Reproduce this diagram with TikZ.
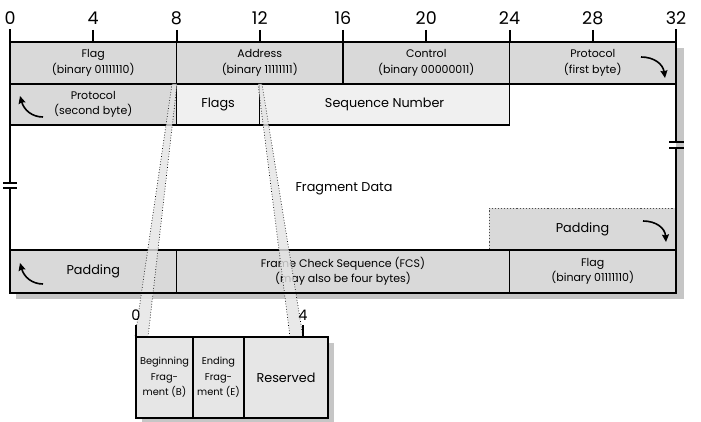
\documentclass[tikz,border=0pt]{standalone}
\usepackage{fontspec}
\setmainfont{Poppins}
\usetikzlibrary{arrows.meta}
\definecolor{hdr}{HTML}{D9D9D9}
\definecolor{lite}{HTML}{F0F0F0}
\definecolor{shad}{HTML}{C6C6C6}
\definecolor{boxg}{HTML}{E6E6E6}
\definecolor{stripg}{HTML}{E4E4E4}
\newcommand\fsmall{\fontsize{11}{15.5}\selectfont}
\newcommand\fbig{\fontsize{12.8}{14}\selectfont}
\newcommand\fnum{\fontsize{17.5}{17.5}\selectfont}
\newcommand\fnumb{\fontsize{14.5}{14.5}\selectfont}
\newcommand\ftiny{\fontsize{9.8}{15.5}\selectfont}
\begin{document}
\begin{tikzpicture}[x=1pt,y=-1pt,
  cell/.style={draw=black, line width=1.1pt, fill=hdr, inner sep=0pt, outer sep=0pt,
    anchor=north west, align=center, font=\fsmall},
  litecell/.style={cell, fill=lite, font=\fbig},
  bcell/.style={cell, fill=boxg, font=\ftiny},
  frameline/.style={line width=2pt, line cap=rect},
  tickline/.style={line width=2pt},
  curv/.style={line width=1.6pt, -{Stealth[length=7.5pt,width=7pt,inset=1pt]}},
  strip/.style={fill=stripg, fill opacity=0.8},
  stripedge/.style={dotted, line width=0.7pt},
  num/.style={font=\fnum, inner sep=0pt},
  numb/.style={font=\fnumb, inner sep=0pt}]
\useasboundingbox (0,0) rectangle (701,422);
% shadow and background
\fill[shad] (16,48) rectangle (684,299);
\fill[white] (10,42) rectangle (676,293);
% row 1
\node[cell, minimum width=166.5pt, minimum height=42pt] (flag1) at (10,42) {Flag\\(binary 01111110)};
\node[cell, minimum width=166.5pt, minimum height=42pt] (addr) at (176.5,42) {Address\\(binary 11111111)};
\node[cell, minimum width=166.5pt, minimum height=42pt] (ctrl) at (343,42) {Control\\(binary 00000011)};
\node[cell, minimum width=166.5pt, minimum height=42pt] (proto1) at (509.5,42) {Protocol\\(first byte)};
% row 2
\node[cell, minimum width=166.5pt, minimum height=41pt] (proto2) at (10,84) {Protocol\\(second byte)};
\node[litecell, minimum width=83.25pt, minimum height=41pt] (flags) at (176.5,84) {Flags};
\node[litecell, minimum width=249.75pt, minimum height=41pt] (seq) at (259.75,84) {Sequence Number};
% fragment data
\node[font=\fbig, inner sep=0pt] (frag) at (344,189) {Fragment Data};
\node[cell, draw=black!70, dotted, line width=0.7pt, font=\fbig, minimum width=187pt, minimum height=42pt] (pad1) at (489,208) {Padding};
% last row
\node[cell, font=\fbig, minimum width=166.5pt, minimum height=43pt] (pad2) at (10,250) {Padding};
\node[cell, minimum width=333pt, minimum height=43pt] (fcs) at (176.5,250) {Frame Check Sequence (FCS)\\(may also be four bytes)};
\node[cell, minimum width=166.5pt, minimum height=43pt] (flag2) at (509.5,250) {Flag\\(binary 01111110)};
% projection strips
\fill[strip] (172,84) -- (177,84) -- (148,337) -- (135,337) -- cycle;
\draw[stripedge] (172,84) -- (135,337) (177,84) -- (148,337);
\fill[strip] (258,84) -- (262,84) -- (303,337) -- (290,337) -- cycle;
\draw[stripedge] (258,84) -- (290,337) (262,84) -- (303,337);
% frame with breaks
\draw[frameline] (10,42) -- (676,42);
\draw[frameline] (10,293) -- (676,293);
\draw[frameline] (676,30) -- (676,142) (676,148) -- (676,293);
\draw[frameline] (10,30) -- (10,183) (10,188) -- (10,293);
\draw[line width=1.5pt] (3,183) -- (17,183) (3,188) -- (17,188);
\draw[line width=1.5pt] (669,142) -- (684,142) (669,148) -- (684,148);
% ruler
\foreach \b in {0,4,...,32} {
  \node[num] (n\b) at ({10+20.8125*\b},18) {\b};
  \draw[tickline] ({10+20.8125*\b},30) -- ({10+20.8125*\b},42);
}
% curved arrows
\draw[curv] (641,57) .. controls (654,57) and (663,64) .. (665,78);
\draw[curv] (643,221) .. controls (656,221) and (665,228) .. (666,242);
\draw[curv] (43,117) .. controls (32,117) and (24,110) .. (20,96);
\draw[curv] (43,284) .. controls (32,284) and (24,277) .. (20,263);
% bottom box
\fill[shad] (142,343) rectangle (334,422);
\node[bcell, minimum width=57pt, minimum height=81pt] (bbeg) at (136,337) {Beginning\\Frag-\\ment (B)};
\node[bcell, minimum width=51pt, minimum height=81pt] (bend) at (193,337) {Ending\\Frag-\\ment (E)};
\node[bcell, font=\fbig, minimum width=84pt, minimum height=81pt] (bres) at (244,337) {Reserved};
\draw[line width=1.4pt] (bbeg.north west) rectangle (bres.south east);
\node[numb] (m0) at (136,315) {0};
\node[numb] (m4) at (303,315) {4};
\draw[tickline] (136,325) -- (136,337);
\draw[tickline] (303,325) -- (303,337);
\end{tikzpicture}
\end{document}
